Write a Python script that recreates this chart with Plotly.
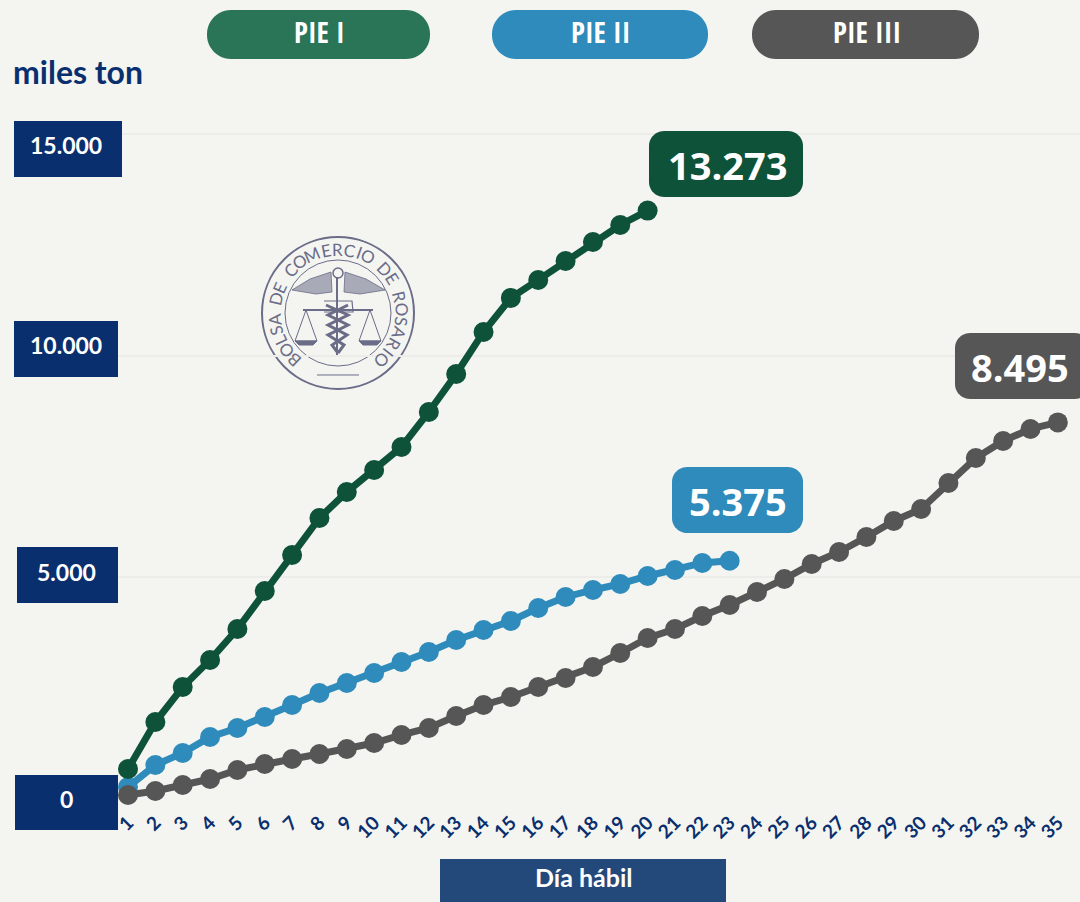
import math
import plotly.graph_objects as go

W, H = 1080, 902
L, R, T, B = 118, 0, 1, 103

dias = list(range(1, 36))
pie1 = [677, 1737, 2526, 3136, 3835, 4692, 5504, 6339, 6925, 7422, 7941, 8730, 9587, 10535, 11302, 11708, 12136, 12565, 12948, 13273]
pie2 = [270, 767, 1038, 1399, 1602, 1850, 2120, 2391, 2617, 2842, 3090, 3316, 3587, 3812, 4015, 4309, 4557, 4715, 4850, 5030, 5166, 5324, 5375]
pie3 = [90, 180, 316, 451, 654, 790, 902, 1015, 1128, 1263, 1444, 1602, 1872, 2120, 2301, 2526, 2730, 2978, 3293, 3632, 3835, 4128, 4376, 4670, 4963, 5301, 5572, 5910, 6271, 6542, 7128, 7692, 8076, 8347, 8495]
y_ticks = [0, 5000, 10000, 15000]
y_labels = ["0", "5.000", "10.000", "15.000"]
pills = ["PIE I", "PIE II", "PIE III"]
callouts = ["13.273", "5.375", "8.495"]

BG = "#f4f5f0"
NAVY = "#0a2f6e"
GREEN, BLUE, GRAY = "#0d5239", "#2e8bbb", "#565656"
SEAL = "#6a6c88"
FONT = "Lato"

fig = go.Figure()
for name, vals, col in [("PIE II", pie2, BLUE), ("PIE I", pie1, GREEN), ("PIE III", pie3, GRAY)]:
    fig.add_trace(go.Scatter(x=dias[:len(vals)], y=vals, mode="lines+markers", name=name,
                             line=dict(color=col, width=7), marker=dict(color=col, size=20),
                             cliponaxis=False, showlegend=False))

pw, ph = W - L - R, H - T - B
px = lambda x: (x - L) / pw
py = lambda y: 1 - (y - T) / ph
shapes, annos = [], []


def rect(x0, y0, x1, y1, color, r=0):
    xa, xb, ya, yb = px(x0), px(x1), py(y0), py(y1)
    if r == 0:
        shapes.append(dict(type="rect", xref="paper", yref="paper", x0=xa, x1=xb, y0=ya, y1=yb,
                           fillcolor=color, line=dict(width=0), layer="above"))
    else:
        pts = []
        for cx, cy, a0 in [(x1 - r, y0 + r, -90), (x1 - r, y1 - r, 0), (x0 + r, y1 - r, 90), (x0 + r, y0 + r, 180)]:
            for k in range(13):
                a = math.radians(a0 + k * 7.5)
                pts.append((px(cx + r * math.cos(a)), py(cy + r * math.sin(a))))
        path = "M" + " L".join(f"{a:.5f},{b:.5f}" for a, b in pts) + " Z"
        shapes.append(dict(type="path", xref="paper", yref="paper", path=path,
                           fillcolor=color, line=dict(width=0), layer="above"))


def text(x, y, s, size, color="white", bold=True, angle=0, family=FONT):
    annos.append(dict(x=px(x), y=py(y), xref="paper", yref="paper", text=f"<b>{s}</b>" if bold else s,
                      showarrow=False, textangle=angle, xanchor="center", yanchor="middle",
                      font=dict(family=family, size=size, color=color)))


# Pills
for s, (x0, x1), col in zip(pills, [(207, 430), (492, 708), (752, 979)], ["#2a7558", BLUE, GRAY]):
    rect(x0, 10, x1, 59, col, 24)
    text((x0 + x1) / 2 + 1, 31, s, 29, family="Open Sans Condensed, Lato")

# Callouts
for s, (x0, y0, x1, y1), col, cx in zip(callouts, [(649, 131, 803, 197), (672, 467, 803, 533), (955, 333, 1090, 399)],
                                        [GREEN, BLUE, GRAY], [727, 738, 1020]):
    rect(x0, y0, x1, y1, col, 15)
    text(cx, (y0 + y1) / 2 + 1, s, 38, family="Open Sans")

# Y axis boxes
for s, (x0, y0, x1, y1), cy in zip(y_labels, [(15, 775, 118, 830), (17, 547, 118, 603), (14, 321, 118, 377), (14, 121, 122, 177)],
                                   [799, 572, 345, 145]):
    rect(x0, y0, x1, y1, NAVY)
    text(66, cy, s, 23, family="Lato")

text(78, 71, "miles ton", 32, NAVY)
rect(440, 859, 726, 902, "#23497a")
text(583, 877, "Día hábil", 25)

# Seal
CX, CY = 338, 313


def circle(r, width, dy=0):
    shapes.append(dict(type="circle", xref="paper", yref="paper", x0=px(CX - r), x1=px(CX + r),
                       y0=py(CY + dy + r), y1=py(CY + dy - r), line=dict(color=SEAL, width=width), layer="between"))


def poly(pts, fill=None, width=1.2):
    path = "M" + " L".join(f"{px(CX + a):.5f},{py(CY + b):.5f}" for a, b in pts) + (" Z" if fill else "")
    shapes.append(dict(type="path", xref="paper", yref="paper", path=path, fillcolor=fill,
                       line=dict(color=SEAL, width=width), layer="between"))


circle(76, 2)
circle(53, 1)
seal_text = "BOLSA DE COMERCIO DE ROSARIO"
a0, a1 = -137, 137
w = {"M": 1.35, "I": 0.55, " ": 0.65, "L": 0.8, "E": 0.85, "S": 0.85, "A": 1.0}
adv = [w.get(c, 1.0) for c in seal_text]
total = sum(adv) - adv[0] / 2 - adv[-1] / 2
pos = 0.0
for i, ch in enumerate(seal_text):
    if i:
        pos += (adv[i - 1] + adv[i]) / 2
    a = a0 + (a1 - a0) * pos / total
    r = 64
    ra = math.radians(a)
    if ch != " ":
        text(CX + r * math.sin(ra), CY - r * math.cos(ra), ch, 17, SEAL, bold=False, angle=a, family="Lato")

# Wings
poly([(-46, -23), (-28, -34), (-7, -41), (-6, -21), (-22, -19)], fill="rgba(106,108,136,0.55)", width=0.8)
poly([(47, -23), (28, -34), (7, -41), (6, -21), (22, -19)], fill="rgba(106,108,136,0.55)", width=0.8)
# Staff, head and snakes
poly([(-1, -36), (-1, 44)], width=2)
circle(5, 1.5, -40)
poly([(-12, -8), (10, 2), (-10, 12), (9, 22), (-6, 32), (0, 40)], width=3)
poly([(10, -8), (-10, 2), (10, 12), (-10, 22), (6, 32), (0, 40)], width=3)
# Beam and pans
poly([(-35, -3), (35, -3)], width=2)
poly([(-14, -12), (14, -12), (15, -1), (-14, -1)], width=1.2)
for c in (-32, 32):
    poly([(c, -3), (c - 11, 28), (c + 11, 28), (c, -3)], width=1)
    poly([(c - 11, 28), (c + 11, 28), (c + 7, 32), (c - 7, 32)], fill=SEAL, width=1)
# Bottom bar
poly([(-21, 62), (21, 62)], width=1)

fig.update_layout(
    width=W, height=H, autosize=False,
    margin=dict(l=L, r=R, t=T, b=B, pad=0),
    paper_bgcolor=BG, plot_bgcolor=BG,
    shapes=shapes, annotations=annos,
    xaxis=dict(range=[0.634, 35.81], tickmode="array", tickvals=dias, ticktext=[str(d) for d in dias],
               tickangle=-45, showgrid=False, zeroline=False, showline=False, ticks="", ticklabelstandoff=8,
               tickfont=dict(family=FONT, size=19, color=NAVY, weight="bold")),
    yaxis=dict(range=[0, 18000], tickmode="array", tickvals=y_ticks, showticklabels=False,
               showgrid=True, gridcolor="#ecede8", gridwidth=1.5, zeroline=False, showline=False, ticks=""),
)
fig.write_html("out.html", config={"displayModeBar": False},
               post_script="document.body.style.margin='0';document.body.style.background='#f4f5f0';document.documentElement.style.overflow='hidden';")
